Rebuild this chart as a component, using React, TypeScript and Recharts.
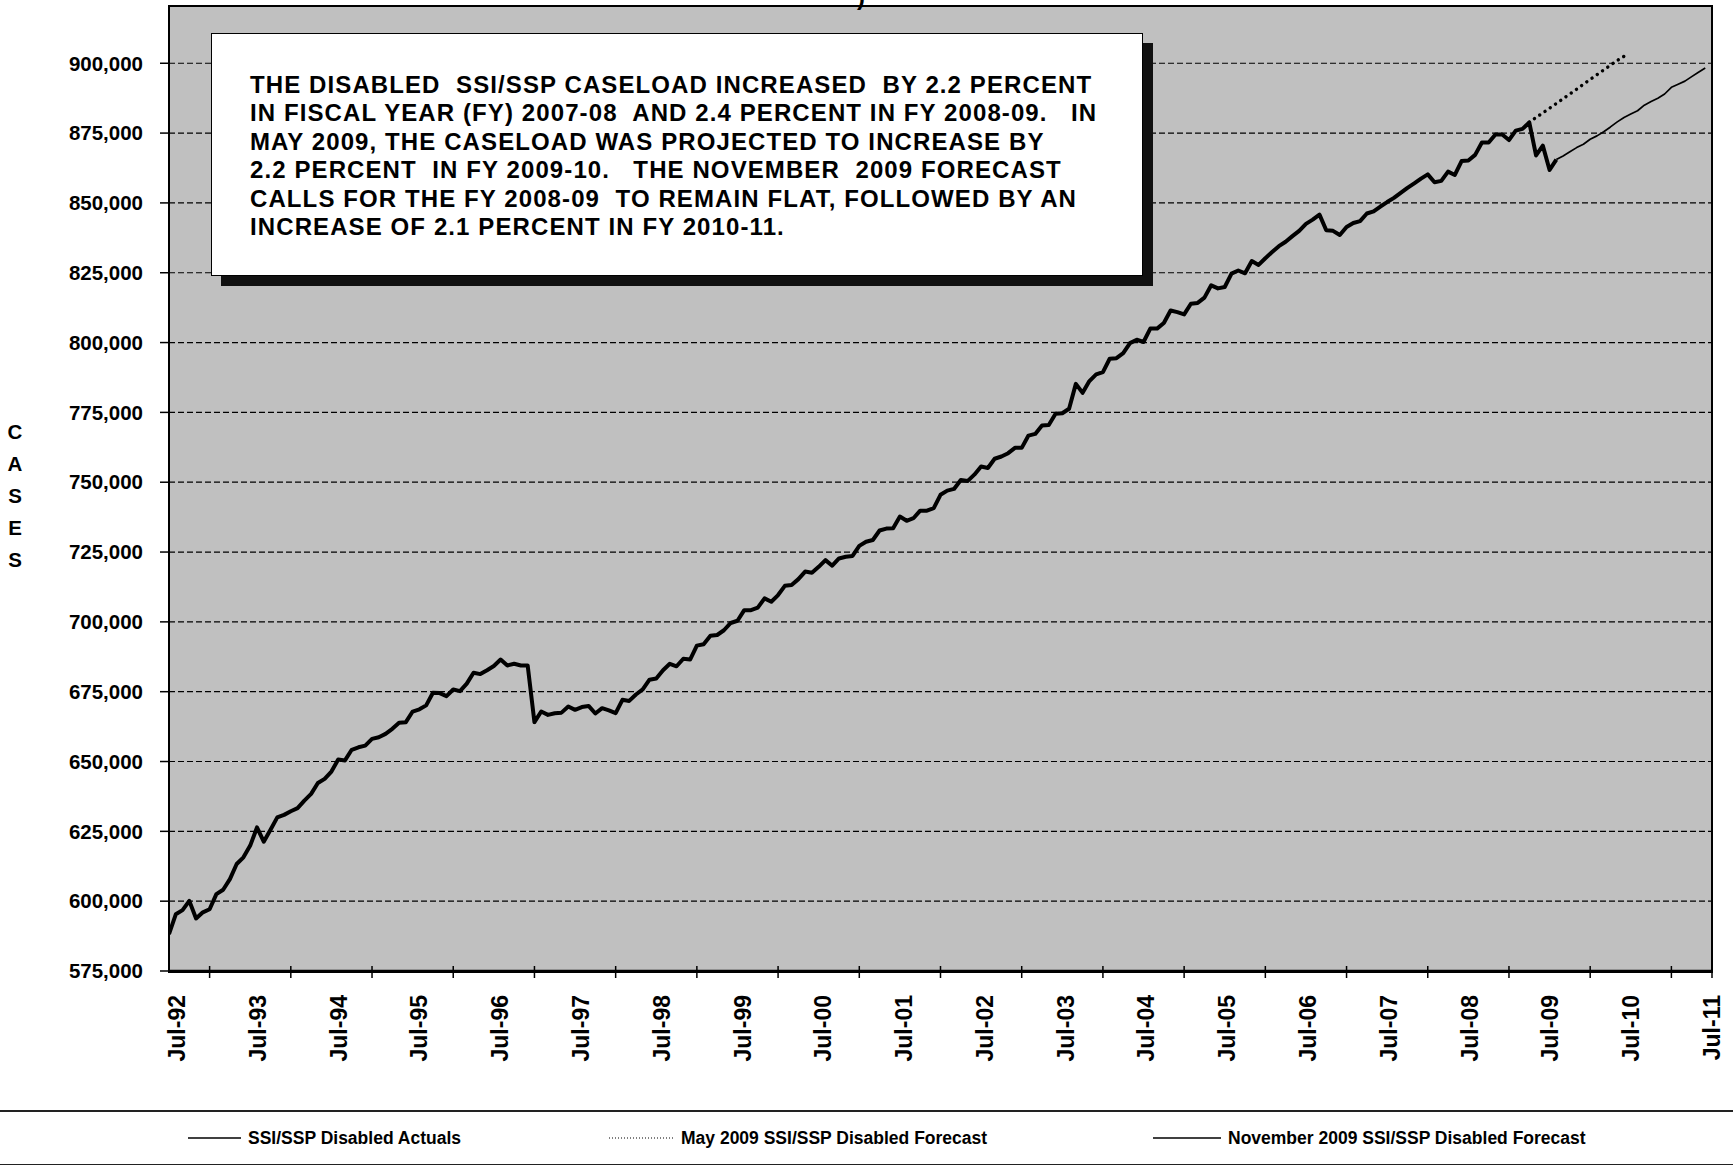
import React from "react";
import { LineChart, Line, XAxis, YAxis, CartesianGrid } from "recharts";

// ---- data (values in thousands of cases), monthly from Jul-92 ----
const xTickLabels = [
  "Jul-92", "Jul-93", "Jul-94", "Jul-95", "Jul-96", "Jul-97", "Jul-98", "Jul-99", "Jul-00", "Jul-01",
  "Jul-02", "Jul-03", "Jul-04", "Jul-05", "Jul-06", "Jul-07", "Jul-08", "Jul-09", "Jul-10", "Jul-11",
];

const yTicks = [575000, 600000, 625000, 650000, 675000, 700000, 725000, 750000, 775000, 800000, 825000, 850000, 875000, 900000];

// SSI/SSP Disabled Actuals, month 0 (Jul-92) .. month 205
const actuals = [
  588.2, 595.3, 596.8, 600.1, 593.8, 596.0, 597.1, 602.5, 604.1, 607.9,
  613.3, 615.7, 619.9, 626.4, 621.3, 625.6, 630.0, 630.9, 632.2, 633.3,
  636.0, 638.4, 642.3, 643.8, 646.4, 650.7, 650.4, 654.2, 655.1, 655.7,
  658.1, 658.7, 659.9, 661.7, 663.9, 664.1, 667.9, 668.7, 670.1, 674.6,
  674.5, 673.4, 675.8, 675.2, 677.9, 681.8, 681.3, 682.7, 684.2, 686.5,
  684.4, 685.0, 684.4, 684.4, 664.1, 667.9, 666.7, 667.3, 667.5, 669.7,
  668.5, 669.5, 669.9, 667.2, 669.1, 668.3, 667.3, 672.1, 671.7, 674.0,
  675.8, 679.3, 679.7, 682.7, 685.0, 684.1, 686.8, 686.5, 691.5, 692.0,
  695.0, 695.3, 697.0, 699.6, 700.4, 704.2, 704.2, 705.1, 708.4, 707.2,
  709.6, 712.9, 713.2, 715.3, 718.0, 717.6, 719.7, 722.1, 720.1, 722.7,
  723.3, 723.6, 727.2, 728.7, 729.3, 732.7, 733.4, 733.5, 737.7, 736.2,
  737.1, 739.8, 739.8, 740.7, 745.5, 747.0, 747.6, 750.8, 750.4, 752.7,
  755.6, 755.1, 758.4, 759.2, 760.4, 762.3, 762.3, 766.7, 767.3, 770.3,
  770.5, 774.5, 774.7, 776.3, 785.2, 782.0, 786.2, 788.6, 789.4, 794.2,
  794.4, 796.2, 799.8, 801.0, 800.2, 805.0, 805.0, 807.0, 811.5, 810.9,
  810.1, 813.9, 814.2, 816.1, 820.5, 819.4, 819.9, 824.7, 825.8, 824.8,
  829.2, 827.8, 830.2, 832.4, 834.5, 836.1, 838.1, 840.0, 842.5, 844.0,
  845.8, 840.2, 840.0, 838.5, 841.4, 842.8, 843.5, 846.2, 847.0, 848.7,
  850.3, 851.8, 853.6, 855.4, 857.0, 858.7, 860.2, 857.4, 857.9, 861.2,
  860.0, 865.0, 865.2, 867.2, 871.6, 871.6, 874.5, 874.5, 872.5, 875.9,
  876.5, 878.8, 867.0, 870.5, 861.8, 865.5,
];

// May 2009 forecast, months 201 (Apr-09) .. 215 (Jun-10)
const mayStart = 201;
const mayForecast = [
  878.8, 880.6, 882.2, 883.9, 885.6, 887.3, 889.0, 890.7, 892.5, 894.2,
  895.9, 897.6, 899.3, 901.0, 902.5,
];

// November 2009 forecast, months 205 (Aug-09) .. 227 (Jun-11)
const novStart = 205;
const novForecast = [
  865.5, 866.8, 868.3, 869.8, 871.0, 872.8, 874.0, 875.5, 877.2, 879.0,
  880.6, 881.8, 883.0, 885.0, 886.3, 887.5, 889.0, 891.4, 892.5, 893.6,
  895.2, 896.8, 898.3,
];

const annotationLines = [
  "THE DISABLED  SSI/SSP CASELOAD INCREASED  BY 2.2 PERCENT",
  "IN FISCAL YEAR (FY) 2007-08  AND 2.4 PERCENT IN FY 2008-09.   IN",
  "MAY 2009, THE CASELOAD WAS PROJECTED TO INCREASE BY",
  "2.2 PERCENT  IN FY 2009-10.   THE NOVEMBER  2009 FORECAST",
  "CALLS FOR THE FY 2008-09  TO REMAIN FLAT, FOLLOWED BY AN",
  "INCREASE OF 2.1 PERCENT IN FY 2010-11.",
];

const series = [
  { key: "actual", name: "SSI/SSP Disabled Actuals", width: 4, dash: undefined as string | undefined, cap: "butt" },
  { key: "may", name: "May 2009 SSI/SSP Disabled Forecast", width: 3.4, dash: "0.1 6.3", cap: "round" },
  { key: "nov", name: "November 2009 SSI/SSP Disabled Forecast", width: 1.7, dash: undefined as string | undefined, cap: "butt" },
];

const lastMonth = 228;
const rows: any[] = [];
for (let m = 0; m <= lastMonth; m++) {
  const r: any = { m };
  r.actual = m < actuals.length ? actuals[m] * 1000 : null;
  const mi = m - mayStart;
  r.may = mi >= 0 && mi < mayForecast.length ? mayForecast[mi] * 1000 : null;
  const ni = m - novStart;
  r.nov = ni >= 0 && ni < novForecast.length ? novForecast[ni] * 1000 : null;
  rows.push(r);
}
const xTicks: number[] = [];
for (let m = 0; m <= lastMonth; m += 6) xTicks.push(m);

const FONT = '"Liberation Sans", Arial, Helvetica, sans-serif';

const XTick = (props: any) => {
  const { x, y, payload } = props;
  const m = payload.value as number;
  const isLabel = m % 12 === 0;
  const isMark = m % 12 === 6 || m === lastMonth;
  const k = m / 12;
  const shift = 16 - (8 * k) / 19;
  return (
    <g>
      {isMark && <line x1={x} x2={x} y1={y - 5} y2={y + 7} stroke="#000" strokeWidth={1.5} />}
      {isLabel && (
        <text
          transform={`translate(${x + shift},${y + 24}) rotate(-90)`}
          textAnchor="end"
          fill="#000"
          fontSize={23}
          fontWeight={700}
          fontFamily={FONT}
        >
          {xTickLabels[k]}
        </text>
      )}
    </g>
  );
};

export default function App() {
  return (
    <div style={{ position: "absolute", left: 0, top: 0, width: 1733, height: 1165, background: "#fff", overflow: "hidden", fontFamily: FONT }}>
      <LineChart width={1733} height={1165} data={rows} margin={{ top: 6, right: 21, bottom: 74, left: 9 }}>
        <CartesianGrid vertical={false} stroke="#000" strokeWidth={1.2} strokeDasharray="6 3" fill="#c0c0c0" fillOpacity={1} />
        <XAxis
          dataKey="m"
          type="number"
          domain={[0, lastMonth]}
          ticks={xTicks}
          interval={0}
          tick={<XTick />}
          tickLine={false}
          tickSize={0}
          tickMargin={0}
          height={120}
          axisLine={{ stroke: "#000", strokeWidth: 2.5 }}
          allowDataOverflow
        />
        <YAxis
          type="number"
          domain={[575000, 920500]}
          ticks={yTicks}
          interval={0}
          allowDataOverflow
          width={160}
          tickSize={9}
          tickMargin={17}
          tickLine={{ stroke: "#000", strokeWidth: 1.5 }}
          axisLine={{ stroke: "#000", strokeWidth: 2 }}
          tickFormatter={(v: number) => v.toLocaleString("en-US")}
          tick={{ fill: "#000", fontSize: 20.5, fontWeight: 700, fontFamily: FONT }}
        />
        {series.map((s) => (
          <Line
            key={s.key}
            dataKey={s.key}
            name={s.name}
            type="linear"
            stroke="#000"
            strokeWidth={s.width}
            strokeDasharray={s.dash}
            strokeLinecap={s.cap as any}
            strokeLinejoin="round"
            dot={false}
            activeDot={false}
            connectNulls={false}
            isAnimationActive={false}
          />
        ))}
      </LineChart>

      {/* plot-area frame */}
      <div style={{ position: "absolute", left: 168, top: 5, width: 1545, height: 968, boxSizing: "border-box", border: "2px solid #000", pointerEvents: "none" }} />

      {/* cut-off title fragment */}
      <div style={{ position: "absolute", left: 857, top: -17, fontSize: 24, fontWeight: 700, color: "#000" }}>)</div>

      {/* vertical axis title */}
      <div style={{ position: "absolute", left: 4, top: 416, width: 22, textAlign: "center", fontSize: 20.5, fontWeight: 700, lineHeight: "32px", color: "#000" }}>
        {"CASES".split("").map((c, i) => (
          <div key={i}>{c}</div>
        ))}
      </div>

      {/* annotation box */}
      <div
        style={{
          position: "absolute",
          left: 211,
          top: 33,
          width: 932,
          height: 243,
          boxSizing: "border-box",
          background: "#fff",
          border: "1.5px solid #000",
          boxShadow: "10px 10px 0 #111",
          paddingLeft: 38,
          paddingTop: 37,
        }}
      >
        {annotationLines.map((t, i) => (
          <div key={i} style={{ whiteSpace: "pre", fontSize: 24, fontWeight: 700, lineHeight: "28.4px", letterSpacing: 1.1, color: "#000" }}>
            {t}
          </div>
        ))}
      </div>

      {/* legend */}
      <div style={{ position: "absolute", left: 0, top: 1110, width: 1733, height: 52, borderTop: "2px solid #222", borderBottom: "2px solid #222" }}>
        {series.map((s, i) => {
          const lefts = [188, 609, 1153];
          const lens = [53, 65, 68];
          return (
            <div key={s.key} style={{ position: "absolute", left: lefts[i], top: 15, height: 22, display: "flex", alignItems: "center" }}>
              <svg width={lens[i]} height={6} style={{ marginRight: 7 }}>
                <line
                  x1={0}
                  x2={lens[i]}
                  y1={3}
                  y2={3}
                  stroke="#000"
                  strokeWidth={s.key === "may" ? 1.2 : 1.6}
                  strokeDasharray={s.key === "may" ? "1 2" : undefined}
                />
              </svg>
              <span style={{ fontSize: 17.5, fontWeight: 700, color: "#000", whiteSpace: "pre" }}>{s.name}</span>
            </div>
          );
        })}
      </div>
    </div>
  );
}
